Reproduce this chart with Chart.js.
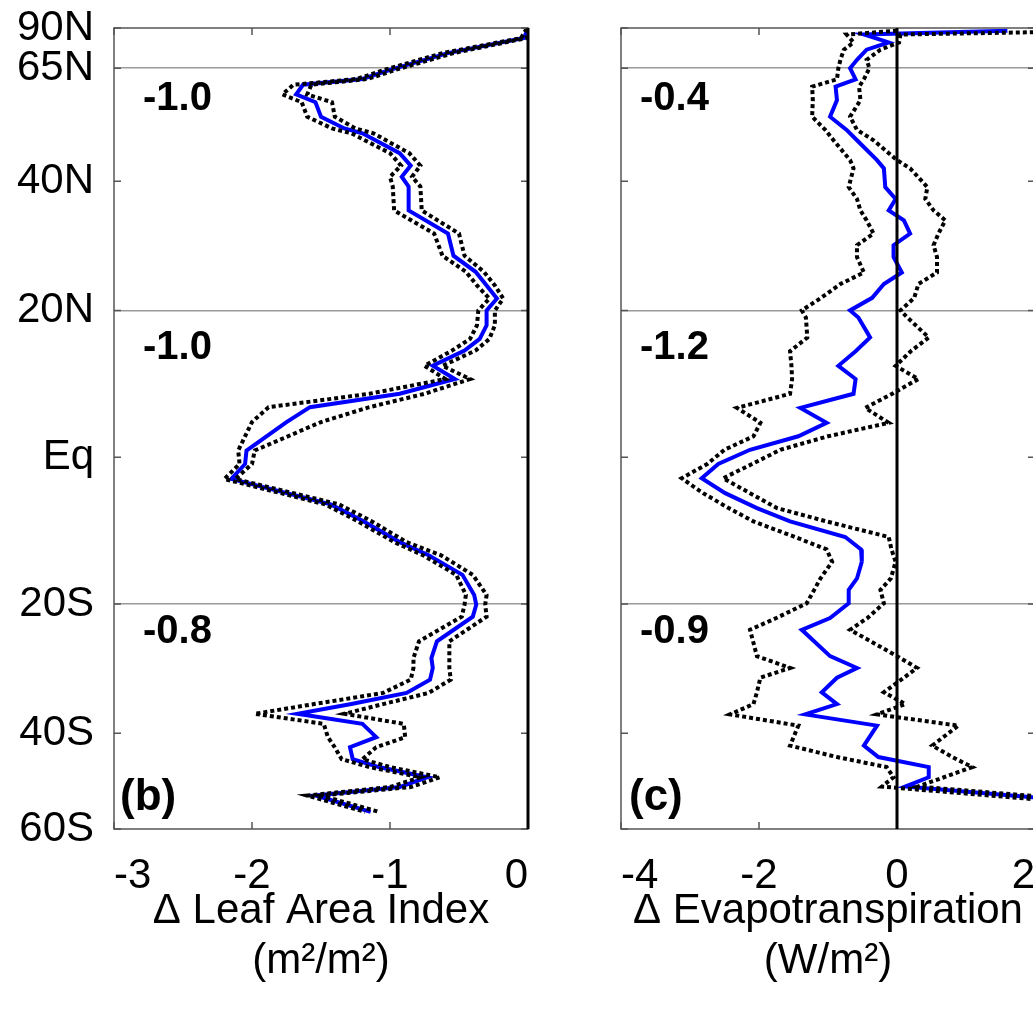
<!DOCTYPE html>
<html>
<head>
<meta charset="utf-8">
<title>Zonal change in LAI and ET</title>
<script src="https://cdn.jsdelivr.net/npm/chart.js@4/dist/chart.umd.min.js"></script>
<style>
  html, body { margin: 0; padding: 0; background: #fff; }
  body { width: 1033px; height: 1009px; overflow: hidden; position: relative; }
  .panel { position: absolute; top: 0; }
  #panelB { left: 0; }
  #panelC { left: 560px; }
</style>
</head>
<body>
<div class="panel" id="panelB"><canvas id="chartB" width="560" height="1009"></canvas></div>
<div class="panel" id="panelC"><canvas id="chartC" width="480" height="1009"></canvas></div>
<script>
// Two zonal-mean profiles drawn against sin(latitude), so the y axis is area-weighted.
// Solid blue = mean change, dotted black = the spread around it.

const LAT_TICKS = [90, 65, 40, 20, 0, -20, -40, -60];
const LAT_LABELS = ["90N", "65N", "40N", "20N", "Eq", "20S", "40S", "60S"];
const GRID_LATS = [65, 20, -20];

// (b) leaf area index, m2/m2
const LAT_B = [87, 77.6, 70.3, 64.5, 61.8, 60.2, 57.7, 55.8, 52.5, 50.0, 49.0, 45.1, 42.8, 40.8,
  39.1, 35.1, 31.4, 28.0, 25.6, 23.6, 21.7, 20.0, 17.9, 16.0, 14.4, 12.3, 10.5, 8.5, 6.7, 4.7,
  0.9, -0.9, -2.9, -6.3, -8.5, -11.4, -13.2, -15.9, -18.7, -20.1, -21.8, -25.4, -27.9, -29.4,
  -31.2, -33.3, -35.1, -36.7, -38.4, -40.7, -42.5, -44.7, -46.2, -48.2, -50.2, -52.0, -55.7];
const MEAN_B = [0.0, -0.03, -0.58, -1.0, -1.2, -1.63, -1.68, -1.54, -1.50, -1.33, -1.20, -0.93, -0.85, -0.915,
  -0.865, -0.865, -0.58, -0.54, -0.38, -0.30, -0.225, -0.30, -0.30, -0.35, -0.46, -0.69, -0.53, -0.93, -1.58, -1.75,
  -2.04, -2.05, -2.15, -1.43, -1.20, -0.93, -0.72, -0.475, -0.39, -0.375, -0.40, -0.66, -0.70, -0.69,
  -0.71, -0.88, -1.28, -1.67, -1.20, -1.10, -1.29, -1.27, -1.08, -0.73, -0.93, -1.54, -1.14];
const LO_B = [-0.01, -0.05, -0.62, -1.04, -1.24, -1.70, -1.78, -1.64, -1.60, -1.42, -1.28, -1.00, -0.92, -1.00,
  -0.98, -0.97, -0.68, -0.62, -0.45, -0.37, -0.28, -0.36, -0.37, -0.42, -0.55, -0.75, -0.60, -1.15, -1.88, -2.00,
  -2.10, -2.09, -2.20, -1.47, -1.24, -0.97, -0.76, -0.52, -0.45, -0.46, -0.48, -0.79, -0.83, -0.83,
  -0.85, -1.05, -1.55, -1.98, -1.48, -1.45, -1.40, -1.35, -1.15, -0.78, -1.00, -1.60, -1.18];
const HI_B = [0.0, -0.01, -0.54, -0.96, -1.16, -1.57, -1.60, -1.42, -1.40, -1.25, -1.12, -0.86, -0.78, -0.84,
  -0.78, -0.77, -0.50, -0.46, -0.32, -0.24, -0.18, -0.24, -0.24, -0.28, -0.38, -0.62, -0.42, -0.75, -1.15, -1.50,
  -1.98, -2.00, -2.12, -1.37, -1.14, -0.88, -0.63, -0.40, -0.30, -0.31, -0.30, -0.57, -0.57, -0.57,
  -0.56, -0.72, -1.05, -1.33, -0.90, -0.89, -1.10, -1.20, -1.00, -0.64, -0.85, -1.50, -1.08];

// (c) evapotranspiration, W/m2 (first and last points run off the right edge)
const LAT_C = [83.5, 80.0, 75.1, 71.7, 67.8, 65.0, 61.7, 59.7, 56.3, 52.5, 49.7, 47.6, 43.8, 42.3, 39.0,
  37.0, 35.1, 33.5, 31.4, 29.6, 27.8, 25.5, 23.8, 21.8, 20.0, 19.0, 16.2, 14.3, 12.3, 10.5, 8.5,
  6.6, 4.6, 2.8, 1.0, -0.9, -2.8, -4.8, -6.8, -8.6, -10.7, -12.4, -14.1, -16.4, -18.0, -19.9,
  -22.0, -23.7, -27.6, -29.4, -30.9, -33.2, -35.1, -36.8, -38.7, -42.2, -44.3, -46.2, -48.2, -50.1, -55.7];
const MEAN_C = [1.6, -0.48, -0.12, -0.44, -0.58, -0.68, -0.60, -0.89, -0.87, -0.97, -0.73, -0.58, -0.29, -0.19, -0.17,
  -0.02, -0.12, 0.10, 0.19, -0.05, -0.05, 0.07, -0.19, -0.36, -0.68, -0.56, -0.39, -0.60, -0.85, -0.60, -0.63,
  -1.40, -1.02, -1.43, -2.13, -2.59, -2.83, -2.49, -2.03, -1.55, -0.75, -0.52, -0.51, -0.58, -0.70, -0.70,
  -0.97, -1.38, -0.97, -0.58, -0.87, -1.09, -0.87, -1.33, -0.29, -0.48, -0.27, 0.46, 0.46, 0.12, 4.5];
const LO_C = [0.0, -0.73, -0.63, -0.77, -0.82, -0.85, -0.87, -1.23, -1.22, -1.23, -1.04, -0.92, -0.68, -0.63, -0.70,
  -0.58, -0.53, -0.44, -0.34, -0.58, -0.58, -0.48, -0.82, -1.10, -1.38, -1.32, -1.30, -1.55, -1.53, -1.52, -1.55,
  -2.32, -1.98, -2.08, -2.50, -2.75, -3.12, -2.81, -2.44, -2.08, -1.48, -1.02, -0.94, -1.11, -1.20, -1.31,
  -1.75, -2.13, -2.03, -1.55, -1.98, -2.03, -2.08, -2.42, -1.43, -1.55, -0.87, -0.15, -0.05, -0.22, 4.2];
const HI_C = [3.2, 0.05, 0.03, -0.24, -0.44, -0.40, -0.48, -0.55, -0.53, -0.68, -0.58, -0.34, 0.0, 0.19, 0.44,
  0.41, 0.53, 0.70, 0.60, 0.53, 0.58, 0.58, 0.31, 0.25, 0.05, 0.15, 0.46, 0.20, -0.02, 0.31, -0.07,
  -0.46, -0.12, -1.00, -1.69, -2.10, -2.52, -2.13, -1.74, -1.02, -0.12, -0.08, -0.02, -0.09, -0.24, -0.19,
  -0.43, -0.68, 0.0, 0.29, 0.10, -0.19, 0.12, -0.29, 0.89, 0.51, 0.80, 1.09, 0.68, 0.30, 4.8];

// Regional means printed inside each panel (N extratropics, tropics N, tropics S)
const ANNOT_B = ["-1.0", "-1.0", "-0.8"];
const ANNOT_C = ["-0.4", "-1.2", "-0.9"];
const ANNOT_LATS = [56.7, 14.8, -24.0];

const X_TICKS_B = [-3, -2, -1, 0];
const X_TICKS_C = [-4, -2, 0, 2];

const FONT = '"Liberation Sans", Arial, sans-serif';
const BLUE = "#0000ff";
const FRAME = "#555";
const GRID = "#9a9a9a";
const TICK = 7;

const sinLat = (lat) => Math.sin(lat * Math.PI / 180);
const points = (lats, xs) => xs.map((x, i) => ({ x, y: sinLat(lats[i]) }));

// Frame, inward ticks on all four sides, the zero line and the bold texts.
const panelDecor = {
  id: "panelDecor",
  afterDraw(chart, args, opts) {
    const { ctx, chartArea: a } = chart;
    const { x, y } = chart.scales;
    ctx.save();
    ctx.strokeStyle = FRAME;
    ctx.lineWidth = 1.5;
    ctx.strokeRect(a.left, a.top, a.right - a.left, a.bottom - a.top);

    ctx.beginPath();
    for (const t of y.ticks) {
      const py = y.getPixelForValue(t.value);
      ctx.moveTo(a.left, py); ctx.lineTo(a.left + TICK, py);
      ctx.moveTo(a.right, py); ctx.lineTo(a.right - TICK, py);
    }
    for (const t of x.ticks) {
      const px = x.getPixelForValue(t.value);
      ctx.moveTo(px, a.bottom); ctx.lineTo(px, a.bottom - TICK);
      ctx.moveTo(px, a.top); ctx.lineTo(px, a.top + TICK);
    }
    ctx.stroke();

    const x0 = x.getPixelForValue(0);
    ctx.strokeStyle = "#000";
    ctx.lineWidth = 3;
    ctx.beginPath();
    ctx.moveTo(x0, a.top);
    ctx.lineTo(x0, a.bottom);
    ctx.stroke();

    ctx.fillStyle = "#000";
    ctx.textAlign = "left";
    ctx.textBaseline = "middle";
    ctx.font = "bold 40px " + FONT;
    opts.texts.forEach((s, i) => {
      ctx.fillText(s, a.left + opts.dx, y.getPixelForValue(sinLat(ANNOT_LATS[i])));
    });
    ctx.font = "bold 44px " + FONT;
    ctx.fillText(opts.tag, a.left + opts.tagDx, a.bottom - 31);
    ctx.restore();
  },
};

function makePanel(canvasId, p) {
  const dotted = (data) => ({
    data, borderColor: "#000", borderWidth: 4, borderDash: [4, 3],
    pointRadius: 0, fill: false, tension: 0,
  });
  return new Chart(document.getElementById(canvasId), {
    type: "line",
    data: {
      datasets: [
        dotted(points(p.lats, p.lo)),
        dotted(points(p.lats, p.hi)),
        { data: points(p.lats, p.mean), borderColor: BLUE, borderWidth: 4,
          pointRadius: 0, fill: false, tension: 0 },
      ],
    },
    options: {
      responsive: false,
      animation: false,
      events: [],
      layout: { padding: p.padding },
      plugins: {
        legend: { display: false },
        tooltip: { enabled: false },
        panelDecor: { texts: p.texts, dx: p.textDx, tag: p.tag, tagDx: p.tagDx },
      },
      scales: {
        x: {
          type: "linear",
          min: p.xTicks[0],
          max: p.xTicks[p.xTicks.length - 1],
          afterBuildTicks: (s) => { s.ticks = p.xTicks.map((v) => ({ value: v })); },
          afterFit: (s) => { s.height = 180; s.paddingLeft = 0; s.paddingRight = 0; },
          grid: { display: false, drawTicks: false },
          border: { display: false },
          ticks: {
            autoSkip: false, maxRotation: 0, align: "inner", padding: 22,
            color: "#000", font: { family: FONT, size: 42 },
            callback: (v) => String(v),
          },
          title: {
            display: true, text: p.title, color: "#000",
            font: { family: FONT, size: 42, lineHeight: 1.2 },
            padding: { top: 0, bottom: 22 },
          },
        },
        y: {
          type: "linear",
          min: sinLat(-60),
          max: 1,
          afterBuildTicks: (s) => { s.ticks = LAT_TICKS.map((l) => ({ value: sinLat(l) })); },
          // fixed width, and no extra room reserved above/below for the end labels
          afterFit: (s) => { s.width = p.yWidth; s.paddingTop = 0; s.paddingBottom = 0; },
          grid: {
            drawTicks: false, lineWidth: 1.5,
            color: (c) => (GRID_LATS.includes(LAT_TICKS[c.index]) ? GRID : "rgba(0,0,0,0)"),
          },
          border: { display: false },
          ticks: {
            display: p.yLabels, autoSkip: false, padding: 20,
            color: "#000", font: { family: FONT, size: 42 },
            callback: (v, i) => LAT_LABELS[i],
          },
        },
      },
    },
    plugins: [panelDecor],
  });
}

makePanel("chartB", {
  lats: LAT_B, mean: MEAN_B, lo: LO_B, hi: HI_B,
  xTicks: X_TICKS_B,
  title: ["\u0394 Leaf Area Index", "(m\u00b2/m\u00b2)"],
  texts: ANNOT_B, textDx: 29, tag: "(b)", tagDx: 6,
  yLabels: true, yWidth: 114,
  padding: { top: 28, right: 32, left: 0, bottom: 0 },
});

makePanel("chartC", {
  lats: LAT_C, mean: MEAN_C, lo: LO_C, hi: HI_C,
  xTicks: X_TICKS_C,
  title: ["\u0394 Evapotranspiration", "(W/m\u00b2)"],
  texts: ANNOT_C, textDx: 19, tag: "(c)", tagDx: 8,
  yLabels: false, yWidth: 0,
  padding: { top: 28, right: 5, left: 61, bottom: 0 },
});
</script>
</body>
</html>
